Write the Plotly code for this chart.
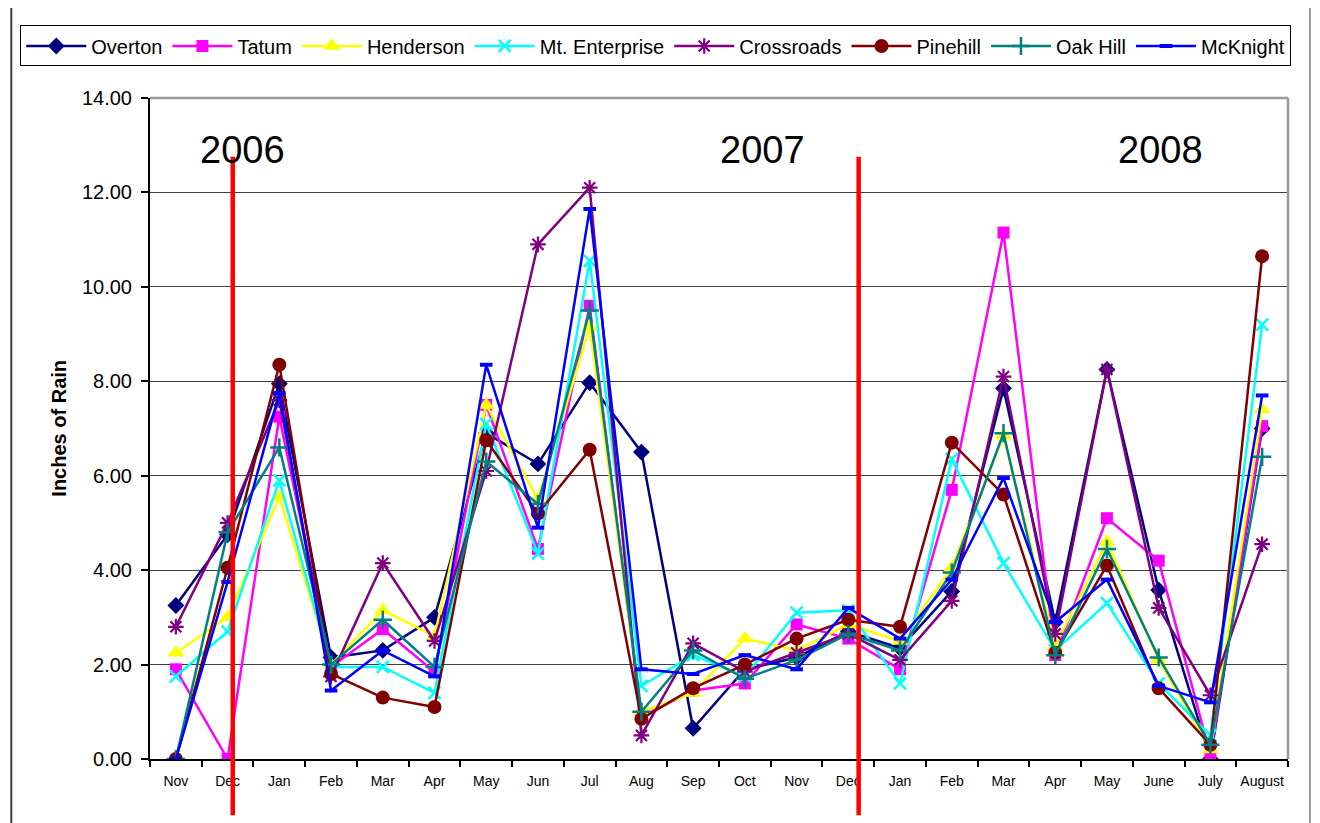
import plotly.graph_objects as go

months = ["Nov", "Dec", "Jan", "Feb", "Mar", "Apr", "May", "Jun", "Jul", "Aug", "Sep", "Oct",
          "Nov", "Dec", "Jan", "Feb", "Mar", "Apr", "May", "June", "July", "August"]

overton = [3.25, 4.75, 7.95, 2.15, 2.30, 3.00, 6.90, 6.25, 7.97, 6.50, 0.65, 1.90,
           2.15, 2.70, 2.35, 3.55, 7.85, 2.90, 8.25, 3.58, 0.00, 7.00]
tatum = [1.90, 0.00, 7.25, 1.95, 2.75, 1.85, 7.50, 4.45, 9.60, 0.90, 1.45, 1.60,
         2.85, 2.55, 1.90, 5.70, 11.15, 2.20, 5.10, 4.20, 0.08, 7.05]
henderson = [2.25, 3.00, 5.55, 2.00, 3.15, 2.60, 7.50, 5.50, 9.15, 1.00, 1.40, 2.55,
             2.30, 2.85, 2.50, 4.05, 6.85, 2.40, 4.60, 2.10, 0.20, 7.40]
mt_enterprise = [1.75, 2.70, 5.90, 1.95, 1.95, 1.40, 7.10, 4.35, 10.55, 1.55, 2.20, 1.75,
                 3.10, 3.15, 1.60, 6.35, 4.15, 2.30, 3.30, 1.60, 0.50, 9.20]
crossroads = [2.80, 5.00, 7.60, 1.75, 4.15, 2.50, 6.10, 10.90, 12.10, 0.50, 2.45, 1.85,
              2.25, 2.65, 2.10, 3.35, 8.10, 2.65, 8.25, 3.20, 1.35, 4.55]
pinehill = [0.00, 4.05, 8.35, 1.80, 1.30, 1.10, 6.75, 5.20, 6.55, 0.85, 1.50, 2.00,
            2.55, 2.95, 2.80, 6.70, 5.60, 2.25, 4.10, 1.50, 0.30, 10.65]
oak_hill = [0.00, 4.80, 6.60, 2.00, 2.95, 1.95, 6.30, 5.40, 9.50, 1.00, 2.30, 1.70,
            2.10, 2.65, 2.30, 3.95, 6.90, 2.20, 4.45, 2.15, 0.30, 6.40]
mcknight = [0.00, 3.75, 7.75, 1.45, 2.30, 1.75, 8.35, 4.90, 11.65, 1.90, 1.80, 2.20,
            1.90, 3.20, 2.55, 3.80, 5.95, 2.90, 3.80, 1.55, 1.20, 7.70]

year_labels = ["2006", "2007", "2008"]
year_label_x = [1.29, 11.35, 19.03]
year_label_y = 12.9
divider_x = [1.1, 13.2]

FONT = "Liberation Sans, Arial, sans-serif"
x = list(range(len(months)))

series = [
    ("Overton", overton, "#000080", "diamond", 13, None),
    ("Tatum", tatum, "#FF00FF", "square", 12, None),
    ("Henderson", henderson, "#FFFF00", "triangle-up", 15, None),
    ("Mt. Enterprise", mt_enterprise, "#00FFFF", "x-thin-open", 12, 2.5),
    ("Crossroads", crossroads, "#800080", "asterisk-open", 13, 2.2),
    ("Pinehill", pinehill, "#800000", "circle", 14, None),
    ("Oak Hill", oak_hill, "#008080", "cross-thin-open", 13, 2.5),
    ("McKnight", mcknight, "#0000FF", "line-ew-open", 9, 4),
]

fig = go.Figure()
for name, vals, color, sym, size, lw in series:
    marker = dict(symbol=sym, size=size, color=color)
    if lw is not None:
        marker["line"] = dict(color=color, width=lw)
    else:
        marker["line"] = dict(width=0)
    fig.add_trace(go.Scatter(x=x, y=vals, name=name, mode="lines+markers",
                             line=dict(color=color, width=2.5), marker=marker))

shapes = []
for dx in divider_x:
    shapes.append(dict(type="line", xref="x", yref="paper", x0=dx, x1=dx,
                       y0=0.911, y1=-0.085, line=dict(color="#FF0000", width=4.5), layer="above"))
# plot area top and right border (gray)
shapes.append(dict(type="line", xref="paper", yref="paper", x0=0, x1=1, y0=1, y1=1,
                   line=dict(color="#999999", width=2.5)))
shapes.append(dict(type="line", xref="paper", yref="paper", x0=1, x1=1, y0=0, y1=1,
                   line=dict(color="#999999", width=2.5)))
# chart outer border (left/right)
shapes.append(dict(type="line", xref="paper", yref="paper", x0=-0.1219, x1=-0.1219, y0=-0.2, y1=1.2,
                   line=dict(color="#404040", width=2)))
shapes.append(dict(type="line", xref="paper", yref="paper", x0=1.0193, x1=1.0193, y0=-0.2, y1=1.2,
                   line=dict(color="#999999", width=2)))

annotations = []
for t, tx in zip(year_labels, year_label_x):
    annotations.append(dict(text=t, x=tx, y=year_label_y, xref="x", yref="y",
                            showarrow=False, font=dict(family=FONT, size=38, color="black"),
                            xanchor="center", yanchor="middle"))
annotations.append(dict(text="<b>Inches of Rain</b>", x=-0.0807, y=0.5, xref="paper", yref="paper",
                        textangle=-90, showarrow=False, xanchor="center", yanchor="middle",
                        font=dict(family=FONT, size=20, color="black")))

fig.update_layout(
    width=1312, height=815,
    margin=dict(l=140, r=32, t=90, b=64),
    paper_bgcolor="white", plot_bgcolor="white",
    font=dict(family=FONT, color="black"),
    showlegend=True,
    legend=dict(orientation="h", x=-0.114, y=1.1097, xanchor="left", yanchor="top",
                bordercolor="black", borderwidth=1, bgcolor="white",
                font=dict(family=FONT, size=20, color="black"),
                itemwidth=60, tracegroupgap=0),
    xaxis=dict(range=[-0.5, 21.5], tickmode="array", tickvals=x, ticktext=months,
               ticks="", showgrid=False, zeroline=False,
               showline=True, linecolor="black", linewidth=2,
               ticklabelstandoff=8,
               tickfont=dict(family=FONT, size=14, color="black"),
               minor=dict(tick0=-0.5, dtick=1, ticks="outside", ticklen=6,
                          tickcolor="black", tickwidth=1.5, showgrid=False)),
    yaxis=dict(range=[0, 14], tickmode="linear", tick0=0, dtick=2, tickformat=".2f",
               ticks="outside", ticklen=7, tickcolor="black", tickwidth=1.5,
               ticklabelstandoff=5,
               showgrid=True, gridcolor="#404040", gridwidth=1,
               zeroline=False, showline=True, linecolor="black", linewidth=2,
               tickfont=dict(family=FONT, size=20, color="black")),
    shapes=shapes,
    annotations=annotations,
)

fig.write_html("out.html")
